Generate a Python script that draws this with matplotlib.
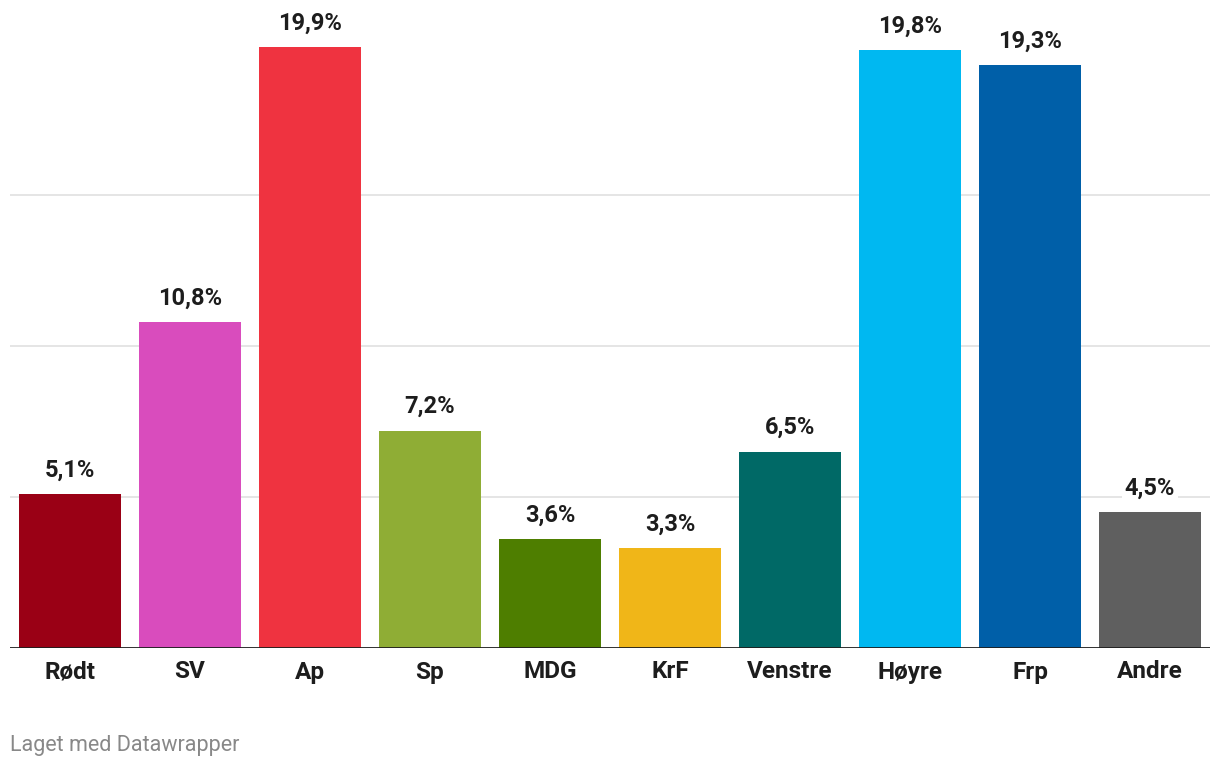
import matplotlib.pyplot as plt

partier = ['Rødt', 'SV', 'Ap', 'Sp', 'MDG', 'KrF', 'Venstre', 'Høyre', 'Frp', 'Andre']
oppslutning = [5.1, 10.8, 19.9, 7.2, 3.6, 3.3, 6.5, 19.8, 19.3, 4.5]
farger = ['#9a0015', '#d94cbd', '#ef3340', '#8fad35', '#4e7e00',
          '#f0b618', '#006966', '#00b8f1', '#005fa8', '#5f5f5f']
rutenett = [5, 10, 15]

plt.rcParams['font.family'] = ['Roboto', 'DejaVu Sans']

fig = plt.figure(figsize=(12.2, 7.68), dpi=100)
ax = fig.add_axes([10 / 1220, 1 - 648 / 768, 1200 / 1220, 648 / 768])

x = range(len(partier))
ax.bar(x, oppslutning, width=0.85, color=farger, zorder=2)

for y in rutenett:
    ax.axhline(y, color='#e3e3e3', lw=1.3, zorder=1)
ax.axhline(0, color='#1d1d1d', lw=2, zorder=4)

for i, v in enumerate(oppslutning):
    ax.annotate(f'{v:.1f}%'.replace('.', ','), (i, v), xytext=(0, 9),
                textcoords='offset points', ha='center', va='bottom',
                fontsize=17, fontweight='bold', color='#1d1d1d', zorder=3,
                bbox=dict(boxstyle='square,pad=0.1', fc='white', ec='none'))

ax.set_xlim(-0.5, 9.5)
ax.set_ylim(0, 648 / 30.2)
ax.set_xticks(list(x))
ax.set_xticklabels(partier, fontsize=17.5, fontweight='bold', color='#1d1d1d')
ax.tick_params(axis='x', length=0, pad=9)
ax.set_yticks([])
for s in ax.spines.values():
    s.set_visible(False)

fig.text(10 / 1220, 1 - 745 / 768, 'Laget med Datawrapper', fontsize=15.5,
         color='#888888', va='center', ha='left')

fig.savefig('out.png', dpi=100)
